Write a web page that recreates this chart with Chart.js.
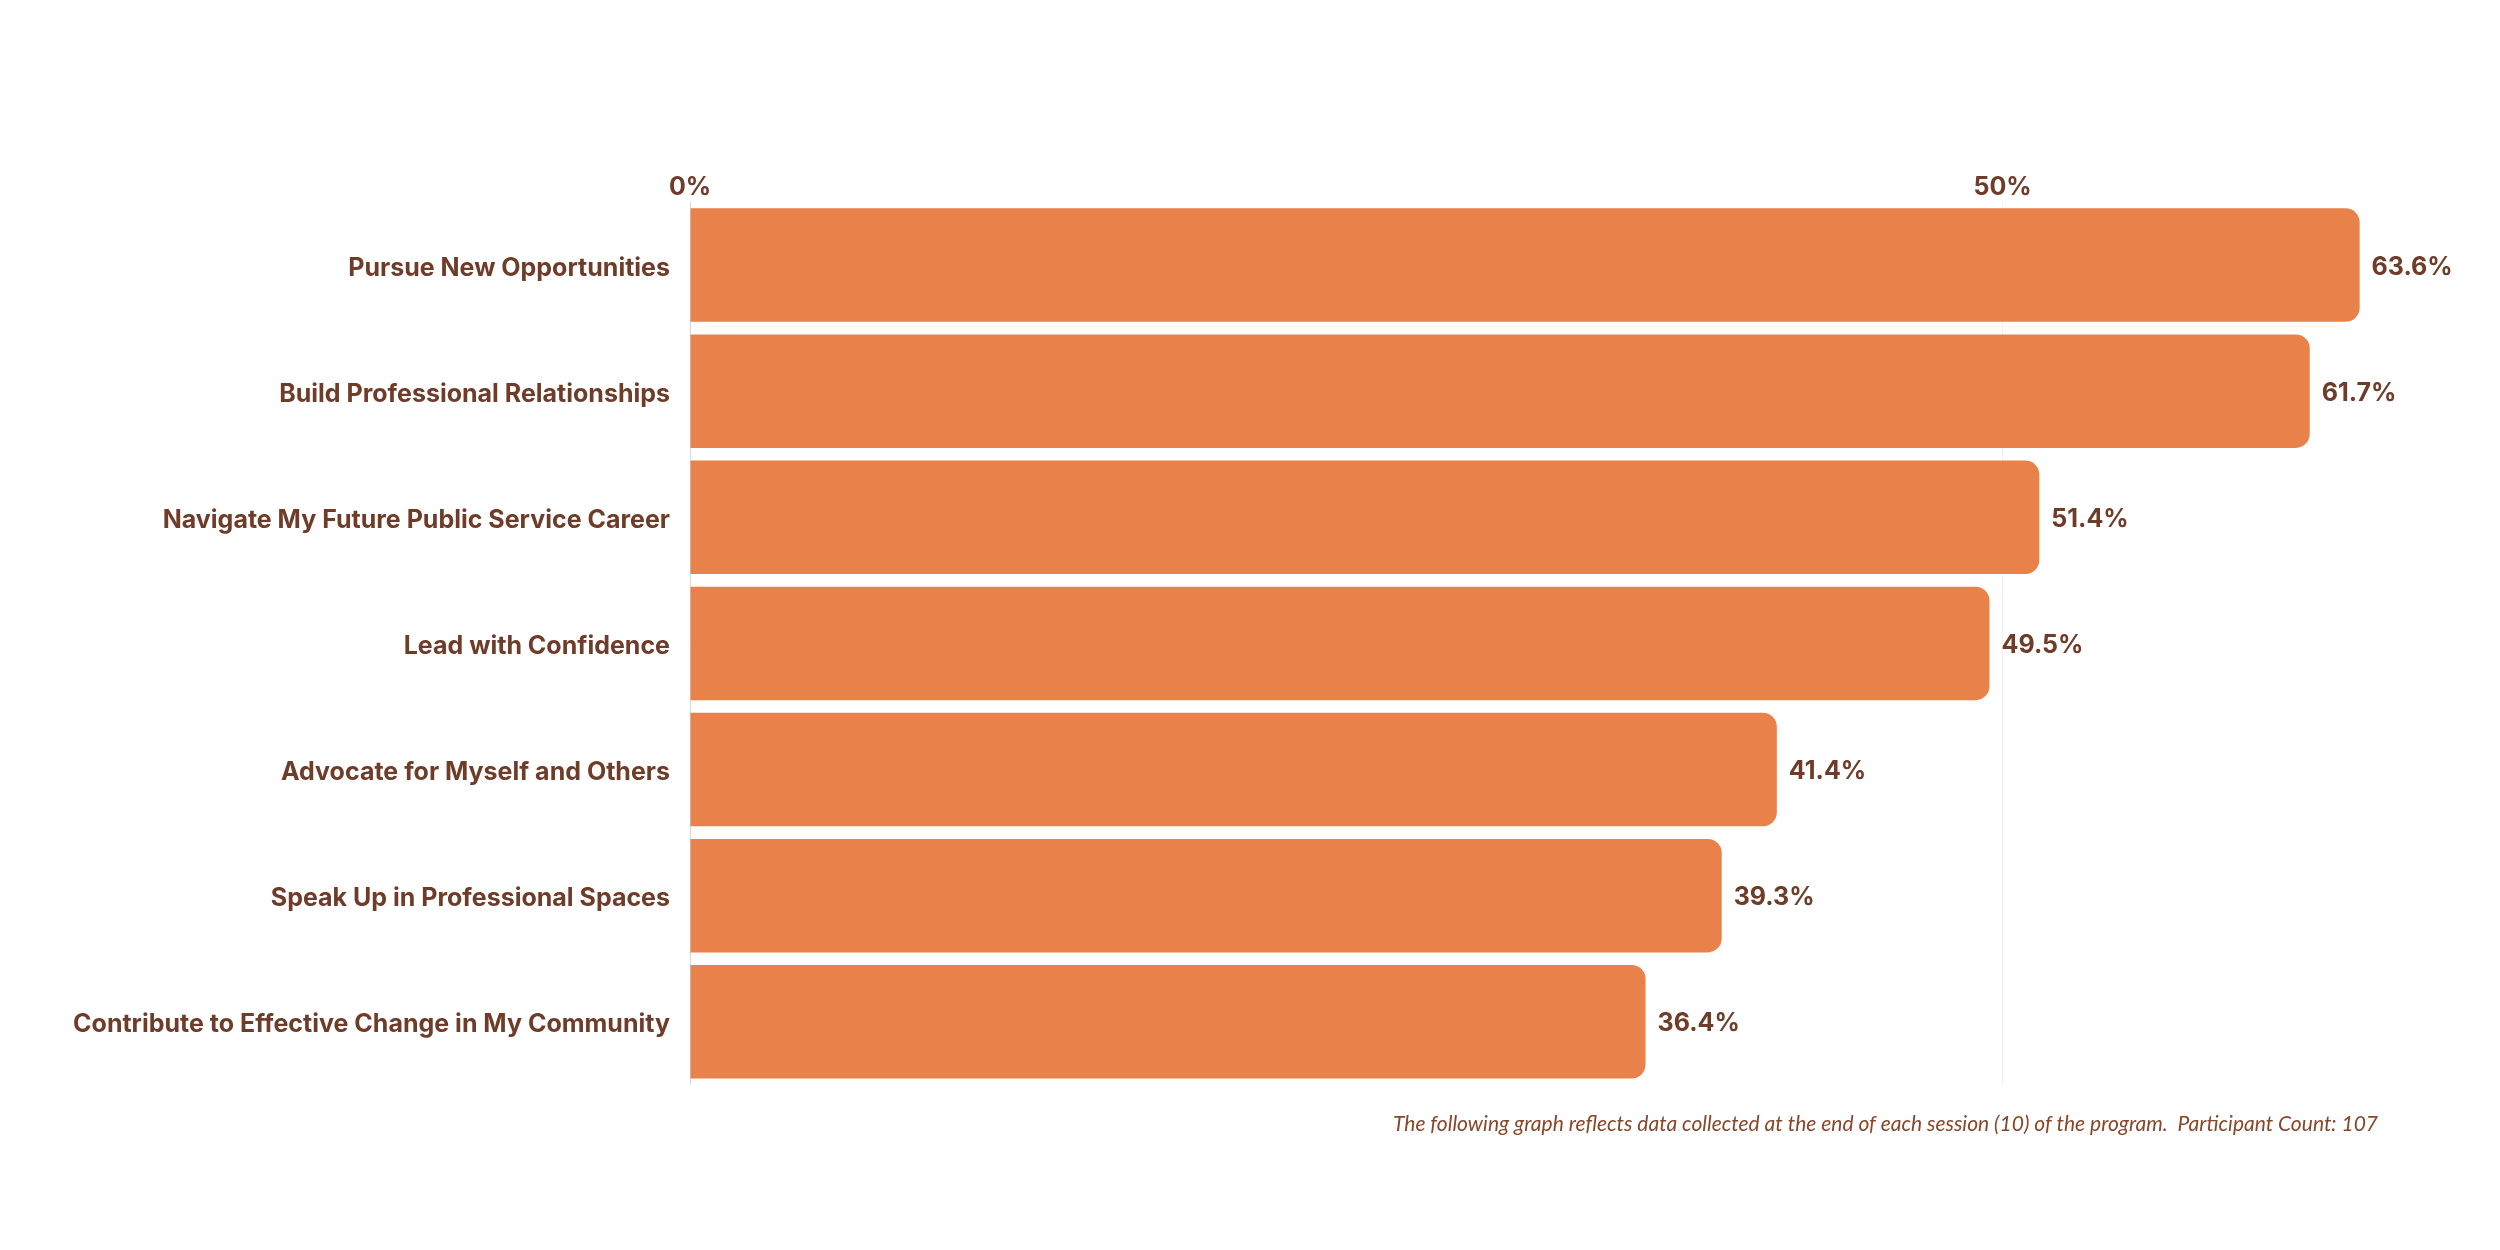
<!DOCTYPE html>
<html>
<head>
<meta charset="utf-8">
<script src="https://cdn.jsdelivr.net/npm/chart.js@4/dist/chart.umd.min.js"></script>
<style>
  html, body { margin: 0; padding: 0; background: #ffffff; }
  #wrap { width: 2500px; height: 1250px; position: relative; }
</style>
</head>
<body>
<div id="wrap"><canvas id="myChart"></canvas></div>
<script>
const categories = [
    'Pursue New Opportunities',
    'Build Professional Relationships',
    'Navigate My Future Public Service Career',
    'Lead with Confidence',
    'Advocate for Myself and Others',
    'Speak Up in Professional Spaces',
    'Contribute to Effective Change in My Community'
];
const percentages = [63.6, 61.7, 51.4, 49.5, 41.4, 39.3, 36.4];
const footnote = 'The following graph reflects data collected at the end of each session (10) of the program.  Participant Count: 107';

const brown = '#6e3c28';
const orange = '#e8814a';

// value labels at the end of each bar
const valueLabels = {
    id: 'valueLabels',
    afterDatasetsDraw(chart) {
        const ctx = chart.ctx;
        const meta = chart.getDatasetMeta(0);
        ctx.save();
        ctx.fillStyle = brown;
        ctx.font = 'bold 25px Inter';
        ctx.textAlign = 'left';
        ctx.textBaseline = 'middle';
        meta.data.forEach((bar, i) => {
            ctx.fillText(percentages[i].toFixed(1) + '%', bar.x + 12, bar.y + 2);
        });
        ctx.restore();
    }
};

const ctx = document.getElementById('myChart').getContext('2d');
const myChart = new Chart(ctx, {
    type: 'bar',
    data: {
        labels: categories,
        datasets: [{
            data: percentages,
            backgroundColor: orange,
            borderWidth: 0,
            borderRadius: 14,
            barPercentage: 0.9,
            categoryPercentage: 1.0
        }]
    },
    options: {
        indexAxis: 'y',
        responsive: true,
        maintainAspectRatio: false,
        devicePixelRatio: 1,
        animation: false,
        layout: {
            padding: { left: 0, right: 122, top: 0, bottom: 113 }
        },
        plugins: {
            legend: { display: false },
            tooltip: { enabled: false },
            subtitle: {
                display: true,
                text: footnote,
                position: 'bottom',
                align: 'end',
                color: '#86472a',
                font: { family: 'Lato', size: 21, style: 'italic', weight: 'normal' },
                padding: { top: 27, bottom: 0 }
            }
        },
        scales: {
            x: {
                position: 'top',
                min: 0,
                max: 64.3,
                afterFit: s => { s.height = 202; },
                border: { display: false },
                grid: {
                    drawTicks: false,
                    color: c => c.tick && c.tick.value === 0 ? '#d9d9d9' : '#f2f2f2',
                    lineWidth: 1
                },
                ticks: {
                    stepSize: 50,
                    includeBounds: false,
                    padding: 0,
                    color: brown,
                    font: { family: 'Inter', size: 25, weight: 'bold' },
                    callback: v => v + '%'
                }
            },
            y: {
                afterFit: s => { s.width = 690; },
                border: { display: false },
                grid: { display: false },
                ticks: {
                    padding: 12,
                    labelOffset: 3,
                    color: brown,
                    font: { family: 'Inter', size: 25, weight: 'bold' }
                }
            }
        }
    },
    plugins: [valueLabels]
});
</script>
</body>
</html>
